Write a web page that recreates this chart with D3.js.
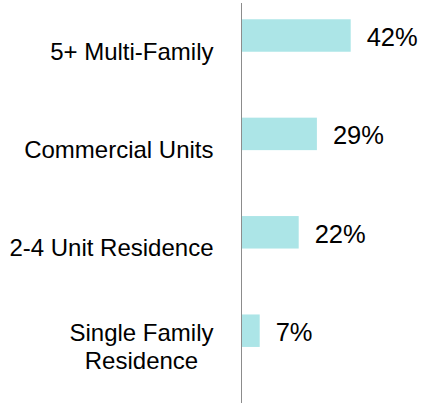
<!DOCTYPE html>
<html>
<head>
<meta charset="utf-8">
<script src="https://cdn.jsdelivr.net/npm/d3@7"></script>
<style>
  html, body { margin: 0; padding: 0; background: #fff; }
  svg { display: block; font-family: Arial, "Liberation Sans", sans-serif; }
</style>
</head>
<body>
<svg id="chart" width="423" height="403"></svg>
<script>
// categorias de arriba a abajo
var categorias = ['5+ Multi-Family', 'Commercial Units', '2-4 Unit Residence', 'Single Family\nResidence'];
var valores = [42, 29, 22, 7];

var AXIS_X = 241.5;
var PAD = 28;
var LINEA = 28.3;

var svg = d3.select('#chart');
var g = svg.append('g').attr('transform', 'translate(' + AXIS_X + ',0)');

var y = d3.scaleBand()
  .domain(categorias)
  .range([-13.7, 379.9])
  .paddingInner(0.67)
  .paddingOuter(0.335);

var x = d3.scaleLinear()
  .domain([0, 50])
  .range([0, 130]);

var datos = categorias.map(function(c, i){ return {cat: c, valor: valores[i]}; });

// barras
g.selectAll('rect.barra').data(datos).enter().append('rect')
    .attr('class', 'barra')
    .attr('x', 0)
    .attr('y', function(d){ return y(d.cat); })
    .attr('width', function(d){ return x(d.valor); })
    .attr('height', y.bandwidth())
    .attr('fill', '#ACE5E7');

// etiquetas de valor
g.selectAll('text.valor').data(datos).enter().append('text')
    .attr('class', 'valor')
    .attr('x', function(d){ return x(d.valor) + 16; })
    .attr('y', function(d){ return y(d.cat) + y.bandwidth() / 2 + 10.5; })
    .attr('font-size', 25.5)
    .attr('fill', '#000')
    .text(function(d){ return d.valor + '%'; });

// eje de categorias
var eje = g.append('g')
  .call(d3.axisLeft(y).tickSize(0).tickPadding(PAD));

eje.select('.domain').remove();

eje.selectAll('.tick text')
    .attr('font-size', 24)
    .attr('font-family', 'Arial, "Liberation Sans", sans-serif')
    .attr('fill', '#000')
    .attr('dy', null)
    .each(function(d){
      var t = d3.select(this);
      var lineas = d.split('\n');
      t.text(null);
      var y0 = 24 - (lineas.length - 1) * LINEA / 2;
      var tspans = lineas.map(function(l, i){
        return t.append('tspan')
          .attr('x', -PAD)
          .attr('y', y0 + i * LINEA)
          .text(l);
      });
      if (lineas.length > 1) {
        // lineas centradas, la mas larga alineada a la derecha
        var ancho = d3.max(tspans, function(s){ return s.node().getComputedTextLength(); });
        t.attr('text-anchor', 'middle');
        tspans.forEach(function(s){ s.attr('x', -PAD - ancho / 2); });
      }
    });

// linea vertical del eje
g.append('line')
    .attr('x1', 0).attr('x2', 0)
    .attr('y1', 3).attr('y2', 403)
    .attr('stroke', '#8c8c8c')
    .attr('stroke-width', 1);
</script>
</body>
</html>
